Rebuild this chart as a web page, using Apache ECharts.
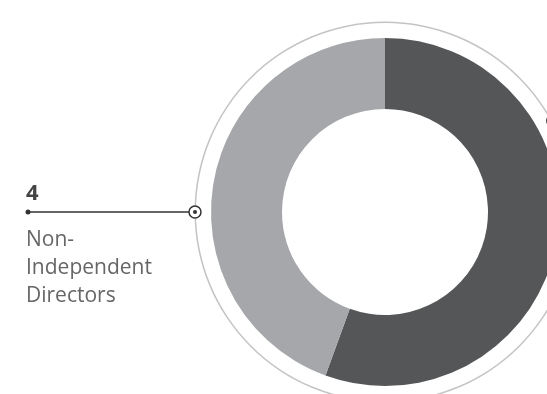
<!DOCTYPE html>
<html>
<head>
<meta charset="utf-8">
<script src="https://cdn.jsdelivr.net/npm/echarts@6/dist/echarts.min.js"></script>
<style>
  html, body { margin: 0; padding: 0; background: #fff; }
  #chart { width: 547px; height: 394px; }
</style>
</head>
<body>
<div id="chart"></div>
<script>
// board composition
var names = ['Independent Directors', 'Non-Independent Directors']
var values = [5, 4]
var labelLines = [['Independent', 'Directors'], ['Non-', 'Independent', 'Directors']]
var colors = ['#555658', '#a6a7aa']

var cx = 385, cy = 212
var ringR = 190

// marker angles on the outer ring (deg, clockwise from 12 o'clock)
var markerAngles = [61.5, 270]

function polar(angle, r) {
  var a = angle * Math.PI / 180
  return [cx + r * Math.sin(a), cy - r * Math.cos(a)]
}

var chart = echarts.init(document.getElementById('chart'))

var graphics = []
markerAngles.forEach(function (ang, i) {
  var p = polar(ang, ringR + (i === 0 ? 1 : 0))
  graphics.push({
    type: 'circle', shape: { cx: p[0], cy: p[1], r: 6 },
    style: { fill: '#fff', stroke: '#333', lineWidth: 1.5 }, z: 10
  })
  graphics.push({
    type: 'circle', shape: { cx: p[0], cy: p[1], r: 2 },
    style: { fill: '#333' }, z: 11
  })
  if (i === 1) {
    graphics.push({
      type: 'line', shape: { x1: 28, y1: p[1], x2: p[0] - 6, y2: p[1] },
      style: { stroke: '#333', lineWidth: 1.5 }, z: 10
    })
    graphics.push({
      type: 'circle', shape: { cx: 28, cy: p[1], r: 2.5 },
      style: { fill: '#333' }, z: 10
    })
    graphics.push({
      type: 'text', left: 26, top: p[1] - 29,
      style: { text: String(values[i]), fill: '#444', font: 'bold 22px "Open Sans", sans-serif' }
    })
    graphics.push({
      type: 'text', left: 26, top: p[1] + 14,
      style: {
        text: labelLines[i].join('\n'), fill: '#666',
        font: '21px "Open Sans", sans-serif', lineHeight: 28
      }
    })
  }
})

chart.setOption({
  animation: false,
  graphic: graphics,
  series: [
    {
      type: 'pie',
      silent: true,
      center: [cx, cy],
      radius: [ringR - 1, ringR + 0.5],
      label: { show: false },
      itemStyle: { color: '#c4c4c6' },
      data: [1]
    },
    {
      type: 'pie',
      center: [cx, cy],
      radius: [103, 174],
      startAngle: 90,
      clockwise: true,
      label: { show: false },
      labelLine: { show: false },
      data: names.map(function (n, i) {
        return { name: n, value: values[i], itemStyle: { color: colors[i] } }
      })
    }
  ]
})
</script>
</body>
</html>
